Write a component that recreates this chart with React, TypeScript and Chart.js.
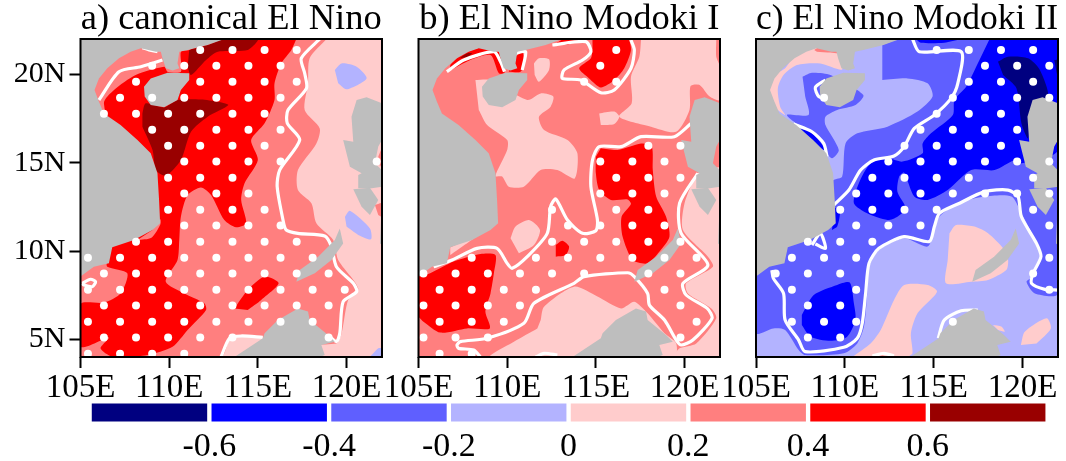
import React, { useEffect, useRef } from "react";
import { Chart, registerables } from "chart.js";
Chart.register(...registerables);

type Pt = [number, number];
const FONT = "'Liberation Serif'";
const C_NAVY = "#000080", C_BLUE = "#0000FF", C_MBLUE = "#5F5FFF", C_LBLUE = "#B3B3FF";
const C_PINK = "#FFCCCC", C_SALMON = "#FF7F7F", C_RED = "#FF0000", C_DARK = "#990000", C_LAND = "#BEBEBE";
const FULL: Pt[] = [[105, 4], [122, 4], [122, 22], [105, 22]];

const landMainland: Pt[] = [[105,22],[113.11,22],[112.17,21.66],[111.04,21.38],[110.57,21.28],[110.47,20.62],[110.57,20.34],[110.19,20.21],[109.81,20.34],[109.62,20.91],[109.53,21.28],[109.25,21.28],[108.4,21.47],[107.83,21.28],[107.17,20.91],[106.51,20.34],[106.04,19.77],[105.79,19.11],[106.04,18.45],[106.32,17.79],[107.26,17.13],[108.21,16.28],[108.96,15.53],[109.34,14.4],[109.43,12.89],[109.49,11.57],[109.06,11.19],[108.02,10.62],[106.79,10.21],[106.6,9.3],[105.75,9.11],[105,8.55]];
const landHainan: Pt[] = [[108.58,19.3],[108.96,19.77],[109.91,20.09],[111.13,20.06],[111.13,19.68],[110.66,19.11],[110.47,18.55],[109.72,18.13],[108.96,18.26],[108.62,18.74]];
const landLuzon: Pt[] = [[120.57,18.55],[121.13,18.7],[122,18.36],[122,16.28],[121.79,15.91],[121.6,14.96],[121.98,14.58],[122,13.64],[121.42,13.55],[120.66,13.55],[120.66,14.3],[120.85,14.4],[120.19,14.77],[119.81,16.28],[120.38,16.19],[120.28,17.6]];
const landMindoro: Pt[] = [[120.38,13.5],[121.32,13.58],[121.79,12.89],[121.32,12.04],[120.85,12.51]];
const landEdge: Pt[] = [[121.94,11.75],[122,11.94],[122,10.34],[121.89,10.43]];
const landPalawan: Pt[] = [[117.17,8.26],[117.36,8.92],[118.4,9.68],[119.34,10.62],[119.62,11.28],[119.81,10.43],[119.15,9.49],[118.21,8.74]];
const landBorneo: Pt[] = [[113.68,4],[114.43,4.49],[115.28,5.06],[115.38,5.34],[116.13,6.09],[117.26,6.75],[117.83,6.57],[117.92,6.09],[118.96,5.25],[119.34,4.87],[118.58,4.68],[118.77,4.11],[118.49,4]];
const lands = [landMainland, landHainan, landLuzon, landMindoro, landEdge, landPalawan, landBorneo];

// panel a
const aSalmon: Pt[] = [[118.87,22],[117.92,20.91],[117.83,19.49],[117.64,17.98],[118.49,16.94],[118.3,16.09],[117.26,14.58],[117.26,13.45],[118.02,12.7],[118.3,11.57],[119.25,10.62],[119.53,9.49],[120.66,7.89],[120.09,7.23],[119.72,5.34],[119.43,4.77],[115.94,4.77],[115.19,5.06],[113.49,5.06],[112.92,4],[105,4],[105,22]];
const aRedMain: Pt[] = [[117.17,22],[116.89,21.38],[116.32,20.62],[115.94,19.49],[115.94,18.55],[115.38,17.23],[114.62,16.28],[115,15.15],[114.25,13.83],[114.06,12.89],[114.34,11.57],[113.77,11.34],[113.11,11.75],[112.36,13.17],[111.79,13.6],[111.04,13.17],[110.66,11.94],[110.57,10.62],[110.47,9.49],[109.81,8.26],[110.85,7.6],[111.98,7.04],[112.08,6.66],[111.04,5.53],[110.19,4.58],[108.77,4.11],[107.64,4],[106.79,4],[106.13,4.49],[106.6,5.11],[105,4.58],[105,7],[106.32,7.08],[107.26,7.6],[107.64,8.74],[106.51,9.11],[106.51,9.49],[107.45,12.89],[106.32,18.36],[106.89,19.11],[108.11,19.96],[109.72,20.43],[109.91,20.15],[110.66,20.15],[110.66,21.28],[111.13,21.38],[112.17,22]];
const aRedSmall: Pt[] = [[113.68,6.75],[114.43,7.79],[115.38,8.55],[116.17,8.17],[115.19,7.23],[114.43,6.66]];
const aDark1: Pt[] = [[108.49,17.79],[108.68,18.36],[109.72,18.13],[110.47,18.55],[111.79,18.58],[112.74,18.45],[113.34,18.26],[112.17,17.6],[111.23,16.75],[110.66,15.15],[109.81,14.26],[109.25,14.58],[109.06,15.72],[108.49,17.04]];
const aDark2: Pt[] = [[111.13,21.38],[112.17,21.66],[113.11,22],[115,22],[114.43,21.38],[112.74,21.28],[112.08,20.81],[111.23,19.96],[111.04,20.43]];
const aBlue1: Pt[] = [[119.34,20.25],[119.72,20.62],[120.57,20.43],[121.13,19.77],[120,19.15],[119.53,19.49]];
const aBlue2: Pt[] = [[119.91,11.94],[120.19,12.28],[121.32,11.28],[121.38,10.66],[120.66,10.91],[120,11.38]];
const aBlue3: Pt[] = [[121.32,4],[121.79,4.49],[122,4.49],[122,4]];
const aSalR1: Pt[] = [[121.6,12.6],[122,12.7],[122,11.94],[121.79,12.04]];
const aSalR2: Pt[] = [[121.79,15.34],[122,15.8],[122,14.96],[121.89,14.77]];
const aSalCoast: Pt[] = [[108.21,10.62],[109,10.75],[109.5,11.5],[109.5,11.8],[109.06,11.19]];
const aW1: Pt[] = [[118.49,22],[117.45,20.91],[117.64,20.06],[117.74,19.21],[116.7,17.98],[116.66,17.23],[117.36,16.28],[116.23,14.58],[116.09,13.64],[116.42,11.75],[116.6,11.19],[117.26,11],[118.77,10.85],[119.15,10.25],[119.43,9.11],[120.38,8.17],[120.57,7.7],[119.81,7.13],[119.62,5.34],[119.43,4.87],[118.96,5.25]];
const aW2: Pt[] = [[106.04,18.55],[107.17,20.15],[108.4,20.43],[109.62,20.81]];
const aW3: Pt[] = [[108.49,21.51],[108.87,21.38],[109.34,21.28]];
const aW4: Pt[] = [[105.09,8.17],[105.57,8.4],[105.85,8.26],[105.66,7.98],[105.19,8.08],[105.09,8.17]];
const aW5: Pt[] = [[112.92,4],[113.4,5.06],[114.06,5.19],[115.28,5.11]];

// panel b
const bP1: Pt[] = [[117.55,22],[117.45,21],[116.98,19.87],[117.02,18.36],[116.32,17.6],[118.11,17.04],[119.53,16.75],[120.28,17.98],[120.34,19.34],[120.85,19.4],[121.42,18.74],[122,18.55],[122,20.43],[121.79,21],[121.79,22]];
const bP2: Pt[] = [[120.66,14.4],[120,12.7],[119.91,11.19],[121.32,9.68],[121.6,9.11],[120.09,8.17],[120.19,7.6],[121.51,6.75],[121.79,6.19],[120.66,4.77],[119.72,4.49],[119.43,4],[122,4],[122,14.77]];
const bP3: Pt[] = [[111.89,6.09],[112.08,6.85],[113.77,7.98],[115.09,7.42],[116.42,6.75],[117.17,7.13],[117.92,6.47],[118.87,5.34],[119.53,4.77],[119.43,4],[109.06,4],[110.38,4.87],[111.7,5.62]];
const bP4: Pt[] = [[108.21,19.68],[109.06,19.68],[111.13,18.55],[111.89,18.92],[112.6,18.74],[112.45,18.17],[111.79,17.6],[112.08,16.85],[113.4,16.28],[113.96,15.53],[113.81,14.11],[112.83,14.58],[111.89,14.58],[110.94,13.64],[110.09,13.64],[109.72,14.21],[109.34,14.25],[110,15.72],[110,16.28],[108.87,17.13],[108.4,17.98]];
const bP5: Pt[] = [[115.19,17.79],[116.04,17.89],[116.32,17.6],[116.04,17.19],[115.28,17.13]];
const bP6: Pt[] = [[111.51,20.62],[111.79,20.91],[112.36,20.85],[112.36,20.25],[111.79,19.58],[111.55,19.96]];
const bP7: Pt[] = [[110.19,10.72],[110.47,11.38],[111.23,11.75],[111.85,11.19],[111.51,10.34],[110.66,9.87]];
const bP8: Pt[] = [[106.79,10.21],[108.21,10.81],[106.79,9.77]];
const bR1: Pt[] = [[114.81,22],[116.79,22],[116.98,21.38],[116.6,20.34],[116.04,19.68],[115.28,19.26],[114.62,19.77],[114.06,20.34],[114.72,20.91],[114.81,21.38]];
const bR1b: Pt[] = [[112.74,21.75],[113.21,22],[114.25,22],[113.4,21.66]];
const bR2: Pt[] = [[106.79,20.53],[107.36,21.09],[108.49,21.51],[109.53,21.28],[109.85,20.09],[109.53,20.06],[109.06,21.09],[107.92,20.81],[106.79,20.21]];
const bR3: Pt[] = [[110.47,21],[110.85,21.28],[110.94,20.62],[110.75,20.15],[110.09,20.15]];
const bR4: Pt[] = [[115.28,15.81],[116.23,15.72],[117.55,16.09],[118.15,15.91],[118.21,14.58],[118.4,13.08],[118.96,11.94],[119.15,10.81],[118.58,9.96],[117.92,9.3],[117.08,9.49],[116.51,10.81],[116.45,11.94],[116.98,12.66],[116.79,12.92],[115.85,12.89],[115.19,13.45],[115,14.4],[115,15.34]];
const bR5: Pt[] = [[112.74,10.34],[113.11,10.58],[113.49,10.25],[113.3,9.77],[112.74,9.68]];
const bR6: Pt[] = [[105,8.55],[105.66,8.74],[106.98,9.4],[108.49,9.83],[109.34,9.77],[109.25,8.74],[109.06,7.6],[108.77,6.57],[109.02,5.62],[107.74,5.62],[106.23,5.38],[105.28,6],[105,6.28]];
const bDark: Pt[] = [[107.32,20.91],[107.74,21.19],[108.02,21.19],[107.83,21]];
const bW1: Pt[] = [[105.85,9.11],[106.89,9.49],[108.3,10.15],[109.43,10.15],[110,9.3],[110.28,9.02],[111.13,9.68],[112.26,11],[112.45,12.51],[112.74,12.94],[113.4,11.75],[114.25,11],[115,11.15],[115.09,11.75],[114.72,13.64],[114.81,15.15],[115.19,15.91],[116.42,15.91],[117.55,16.47],[119.43,16.47],[120.38,17.23]];
const bW2: Pt[] = [[108.49,4],[108.11,4.4],[107.26,4.49],[107.17,4.68],[107.36,4.87],[108.87,5.06],[110.94,5.91],[111.51,7.04],[113.77,8.17],[114.34,8.55],[116.79,8.77],[117.17,8.55],[117.92,7.6],[118.02,6.94],[118.87,6.09],[119.53,4.96],[119.81,4.68],[120.47,4.96],[121.55,6.19],[121.28,6.75],[120.09,7.51],[119.91,8.17],[121.32,9.21],[119.81,11],[119.72,12.7],[120.75,14.4]];
const bW3: Pt[] = [[106.6,20.15],[107.55,20.81],[109.25,21.28],[109.62,20.72],[109.85,20.15]];
const bW4: Pt[] = [[110.47,21.19],[111.04,21.28],[110.85,20.25]];
const bW5: Pt[] = [[112.55,21.66],[114.43,21.85],[114.72,21.28],[114.25,20.81],[113.21,20.25],[113.11,19.77],[114.15,19.68],[115.28,18.96],[116.04,19.11],[116.98,20.34],[117.17,21.38],[116.98,21.94]];
const bW6: Pt[] = [[111.6,4],[112.08,4.21],[112.83,4.11]];

// panel c
const cM: Pt[] = [[112.11,21.66],[113.15,22],[122,22],[122,7.6],[120.7,7.6],[120.23,8.26],[120.6,8.55],[120.98,9.68],[120.7,10.62],[119.94,12.13],[119.38,13.08],[117.87,13.08],[116.36,12.7],[115.32,11.94],[115.04,11.19],[114.66,10.25],[113.34,10.72],[111.92,10.06],[111.36,9.11],[111.26,7.6],[111.08,5.72],[110.7,4.77],[109.94,4.21],[107.77,4.11],[107.4,4.4],[106.64,5.53],[105.98,5.62],[105,5.34],[105,8.55],[107.3,12.89],[109.38,14.02],[109.85,14.21],[110.04,16.09],[110.7,16.66],[112.4,17.04],[114.09,17.89],[114.94,18.74],[114.66,19.49],[113.53,19.77],[112.11,19.68]];
const cM2: Pt[] = [[107.62,19.87],[108.15,20.09],[109.19,19.96],[111.04,18.83],[110.6,18.26],[109.57,17.98],[108.91,17.6],[108.91,17.13],[109.66,15.72],[109.28,15.25],[108.91,15.62],[107.87,16.75],[106.74,17.7],[107.96,17.7],[107.77,18.74]];
const cPU: Pt[] = [[105.75,19.08],[106.08,19.96],[106.64,20.34],[107.21,21.09],[108.25,21.47],[109.57,21.38],[109.85,20.28],[108.62,20.62],[107.3,20.53],[106.55,19.96],[106.23,19.21],[106.36,18.17],[106.64,17.7],[105.98,18.17]];
const cSal: Pt[] = [[108.28,21.38],[108.62,21.57],[109.19,21.53],[109.66,21.19],[109.19,21.23],[108.43,21.28]];
const cBCoast1: Pt[] = [[107.49,16.94],[108.06,16.75],[108.81,15.91],[108.81,15.72],[108.25,16.09]];
const cB: Pt[] = [[118.15,22],[122,22],[122,15.72],[119.94,14.96],[119.57,15.15],[118.43,14.58],[117.11,14.58],[115.79,13.45],[114.66,12.89],[113.91,13.08],[113.34,14.43],[113.06,14.21],[112.96,13.36],[113.43,12.42],[112.96,11.94],[112.4,11.75],[111.26,12.13],[110.51,12.7],[110.79,13.83],[111.45,14.96],[112.4,15.25],[113.25,15.06],[114.38,15.53],[114.38,16.09],[114.85,16.66],[116.08,17.7],[116.17,18.55],[116.83,19.3],[117.58,20.81]];
const cBTop: Pt[] = [[114,22],[114.28,21.79],[115.6,21.79],[116.55,22]];
const cBCoast2: Pt[] = [[109.38,12.51],[109.72,12.23],[109.57,11.38],[109.28,11.19]];
const cBLow: Pt[] = [[107.58,6.38],[108.25,7.51],[109.57,8.08],[110.28,8.21],[110.51,7.04],[110.6,6.11],[110.13,5.15],[109.19,4.92],[108.06,5.15],[107.58,5.81]];
const cNavy: Pt[] = [[118.62,20.72],[119.19,21],[120.32,20.91],[120.98,20.25],[121.45,18.74],[120.6,18.36],[120.32,16.38],[119.94,17.23],[119.66,19.21],[118.91,19.96]];
const cNavy2: Pt[] = [[121.79,20.81],[122,20.81],[122,19.7]];
const cP1: Pt[] = [[115.89,11],[116.26,11.47],[117.3,11.38],[118.06,11],[118.91,10.15],[119.19,9.49],[119.09,8.92],[118.06,8.36],[117.11,8.26],[115.7,8.17],[115.79,9.49]];
const cP2: Pt[] = [[110.42,4],[111.45,4.77],[112.02,5.53],[112.77,7.23],[113.34,8.08],[114.66,8.08],[115.19,7.7],[114.09,6.47],[113.72,5.34],[113.81,4.21],[113.53,4]];
const cP3: Pt[] = [[119.91,4.68],[120.13,5.43],[121.36,6.19],[121.6,5.62],[120.79,4.77]];
const cP4: Pt[] = [[118.34,5.81],[118.81,5.72],[119,5.43],[118.62,5.53]];
const cSal2: Pt[] = [[111.64,4],[111.92,4.21],[112.3,4]];
const cW1: Pt[] = [[113.81,22],[114.19,21.28],[116.55,21.28],[116.36,19.49],[115.98,18.64],[115.04,17.7],[113.91,16.94],[113.34,15.91],[112.77,15.38],[111.64,15.15],[110.89,14.58],[110.23,13.45],[109.38,12.6]];
const cW2: Pt[] = [[105.89,8.92],[105.98,8.45],[106.55,7.6],[106.64,6.09],[107.4,4.96],[107.77,4.3],[109.94,4.55],[110.7,5.06],[110.98,5.91],[111.17,7.6],[111.36,9.3],[111.92,10.15],[113.34,10.81],[114.75,10.53],[115.04,11.38],[115.32,12.13],[116.36,12.66],[117.87,13.36],[119.19,13.45],[119.75,13.08],[119.94,11.94],[120.79,10.43],[121.04,9.68],[120.6,8.74],[120.51,8.17],[121.26,7.83],[122,7.79]];
const cW3: Pt[] = [[107.11,17.19],[108.15,16.75],[108.81,16.09],[109,15.34]];
const cW4: Pt[] = [[108.91,19.68],[108.34,19.26],[108.53,18.74],[108.81,18.64]];
const cW5: Pt[] = [[115.26,5.06],[115.6,6.09],[116.55,6.62],[117.49,6.66]];
const cW6: Pt[] = [[108.15,10.34],[108.62,11],[108.91,10.15],[108.34,10.4]];
const cW7: Pt[] = [[111.55,4.06],[112.21,4.21],[112.77,4.06]];

// stippling: latitudes of rows, longitudes of columns and, per row, which columns are marked
const stipLat = [21.38,20.49,19.58,18.68,17.77,16.87,15.96,15.06,14.15,13.25,12.34,11.44,10.53,9.62,8.72,7.81,6.91,6,5.1,4.19];
const stipLonA = [105.42,106.32,107.23,108.13,109.04,109.94,110.85,111.75,112.66,113.57,114.47,115.38,116.28,117.19,118.09,118.99,119.9,120.8,121.7];
const stipLonB = [105.28,106.19,107.09,108,108.91,109.81,110.72,111.62,112.53,113.43,114.34,115.25,116.15,117.06,117.96,118.87,119.77,120.68];
const stipLonC = [106.11,107.02,107.92,108.83,109.74,110.64,111.55,112.45,113.36,114.26,115.17,116.08,116.98,117.89,118.79,119.7,120.6,121.51];
const stipA: number[][] = [[7,9,11,13],[4,6,8,10,12],[3,7,9,11,13],[2,4,6,8,10,12],[1,3,5,7,9,11],[4,6,8,10,12],[5,7,9,11],[6,8,10,12,18],[5,7,9],[6,8,10],[5,7,9,11],[6,8,10,12],[3,5,7,9,11,13],[0,2,4,6,8,10,12,14],[1,3,5,7,9,11,13,15],[0,2,4,6,8,10,12,14,16],[1,3,5,7,9,11,13,15],[0,2,4,6,8,10,12,14],[1,3,5,7,9,15],[0,2,4,6]];
const stipB: number[][] = [[12],[11],[10,12],[],[],[],[14,16],[11,13,15],[12,14,16],[11,13,15],[8,12,14],[9,11,13,15],[8,10,12,14,16],[3,7,9,11,13,15,17],[0,2,4,6,8,10,14,16],[1,3,5,7,15],[0,2,4,6,16],[1,3,5,17],[0,2,4,16],[1,3]];
const stipC: number[][] = [[10,12,14,16],[13,15,17],[12,14,16],[3,11,13,15,17],[10,12,14],[9,11,13,15],[8,10,12,14],[7,9,11,13,15,17],[6,8,10,12,16],[5,7,9,11,13,15,17],[4,6,8,10,16],[5,7,9,17],[2,4,6],[1,3,5,17],[0,2,4,16],[1,5,17],[2,4],[1,3,5,11],[2,4],[]];

const xTicks = [105, 110, 115, 120];
const xLabels = ["105E", "110E", "115E", "120E"];
const yTicks = [5, 10, 15, 20];
const yLabels = ["5N", "10N", "15N", "20N"];
const cbEdges = [-0.8, -0.6, -0.4, -0.2, 0, 0.2, 0.4, 0.6, 0.8];
const cbColors = [C_NAVY, C_BLUE, C_MBLUE, C_LBLUE, C_PINK, C_SALMON, C_RED, C_DARK];
const cbTicks = [-0.6, -0.4, -0.2, 0, 0.2, 0.4, 0.6];

type Layer = [Pt[], string];
const panels = [
  {
    title: "a) canonical El Nino", left: 0, width: 400, padL: 0, padR: 18, showY: true,
    fills: [[FULL, C_PINK], [aSalmon, C_SALMON], [aRedMain, C_RED], [aRedSmall, C_RED], [aDark1, C_DARK], [aDark2, C_DARK], [aBlue1, C_LBLUE], [aBlue2, C_LBLUE], [aBlue3, C_LBLUE], [aSalR1, C_SALMON], [aSalR2, C_SALMON], [aSalCoast, C_SALMON]] as Layer[],
    lines: [aW1, aW2, aW3, aW4, aW5], lon: stipLonA, rows: stipA,
  },
  {
    title: "b) El Nino Modoki I", left: 380, width: 350, padL: 38.5, padR: 10, showY: false,
    fills: [[FULL, C_SALMON], [bP1, C_PINK], [bP2, C_PINK], [bP3, C_PINK], [bP4, C_PINK], [bP5, C_PINK], [bP6, C_PINK], [bP7, C_PINK], [bP8, C_PINK], [bR1, C_RED], [bR1b, C_RED], [bR2, C_RED], [bR3, C_RED], [bR4, C_RED], [bR5, C_RED], [bR6, C_RED], [bDark, C_DARK]] as Layer[],
    lines: [bW1, bW2, bW3, bW4, bW5, bW6], lon: stipLonB, rows: stipB,
  },
  {
    title: "c) El Nino Modoki II", left: 718, width: 348, padL: 38, padR: 8, showY: false,
    fills: [[FULL, C_LBLUE], [cM, C_MBLUE], [cM2, C_MBLUE], [cPU, C_PINK], [cSal, C_SALMON], [cBCoast1, C_BLUE], [cB, C_BLUE], [cBTop, C_BLUE], [cBCoast2, C_BLUE], [cBLow, C_BLUE], [cNavy, C_NAVY], [cNavy2, C_NAVY], [cP1, C_PINK], [cP2, C_PINK], [cP3, C_PINK], [cP4, C_PINK], [cSal2, C_SALMON]] as Layer[],
    lines: [cW1, cW2, cW3, cW4, cW5, cW6, cW7], lon: stipLonC, rows: stipC,
  },
];

const toXY = (pts: Pt[]) => pts.map(([x, y]) => ({ x, y }));

const frame = {
  id: "frame",
  afterDatasetsDraw(chart: any) {
    const { ctx, chartArea: a } = chart;
    ctx.save();
    ctx.strokeStyle = "#000";
    ctx.lineWidth = 2;
    ctx.strokeRect(a.left, a.top, a.right - a.left, a.bottom - a.top);
    ctx.restore();
  },
};

function buildMap(canvas: HTMLCanvasElement, p: (typeof panels)[number]) {
  const shape = (pts: Pt[], color: string, tension: number) => ({
    data: toXY(pts), showLine: true, fill: "shape", backgroundColor: color, borderColor: "transparent",
    borderWidth: 0, pointRadius: 0, tension,
  });
  const layers: any[] = [];
  for (const [pts, color] of p.fills) layers.push(shape(pts, color, pts === FULL ? 0 : 0.25));
  for (const pts of p.lines)
    layers.push({ data: toXY(pts), showLine: true, fill: false, borderColor: "#fff", borderWidth: 3.2, pointRadius: 0, tension: 0.25 });
  for (const pts of lands) layers.push(shape(pts, C_LAND, 0));
  const dots: { x: number; y: number }[] = [];
  p.rows.forEach((cols, r) => cols.forEach((c) => dots.push({ x: p.lon[c], y: stipLat[r] })));
  layers.push({ data: dots, showLine: false, pointRadius: 4, pointBackgroundColor: "#fff", pointBorderColor: "#fff", pointBorderWidth: 0 });
  const n = layers.length;
  layers.forEach((l, i) => (l.order = n - i));
  return new Chart(canvas, {
    type: "scatter",
    data: { datasets: layers },
    plugins: [frame],
    options: {
      responsive: false, animation: false, events: [],
      layout: { padding: { left: p.padL, right: p.padR, top: 0, bottom: 5 } },
      plugins: {
        legend: { display: false }, tooltip: { enabled: false },
        filler: { propagate: false, drawTime: "beforeDatasetDraw" },
        title: { display: true, text: p.title, fullSize: false, color: "#000", font: { family: FONT, size: 36.5, lineHeight: 1.0685, weight: "normal" }, padding: { top: 0, bottom: 0 } },
      },
      scales: {
        x: {
          type: "linear", min: 105, max: 122,
          afterBuildTicks: (s: any) => { s.ticks = xTicks.map((value) => ({ value })); },
          afterFit: (s: any) => { s.height = 43; },
          grid: { drawOnChartArea: false, tickLength: 11, tickWidth: 2, tickColor: "#000" },
          border: { display: false },
          ticks: { autoSkip: false, maxRotation: 0, padding: 1, color: "#000", font: { family: FONT, size: 33 }, callback: (v: any) => xLabels[xTicks.indexOf(v)] },
        },
        y: {
          type: "linear", min: 4, max: 22, display: p.showY,
          afterBuildTicks: (s: any) => { s.ticks = yTicks.map((value) => ({ value })); },
          afterFit: (s: any) => { if (p.showY) s.width = 80.5; },
          grid: { drawOnChartArea: false, tickLength: 11, tickWidth: 2, tickColor: "#000" },
          border: { display: false },
          ticks: { autoSkip: false, padding: 4, color: "#000", font: { family: FONT, size: 30 }, callback: (v: any) => yLabels[yTicks.indexOf(v)] },
        },
      },
    } as any,
  });
}

function buildBar(canvas: HTMLCanvasElement) {
  const datasets = cbColors.map((color, i) => ({
    data: [[cbEdges[i], cbEdges[i + 1]]], backgroundColor: color, borderColor: "#fff", borderWidth: 2.5, borderSkipped: false, barThickness: 22.5, grouped: false,
  }));
  return new Chart(canvas, {
    type: "bar",
    data: { labels: ["scale"], datasets },
    options: {
      indexAxis: "y", responsive: false, animation: false, events: [],
      layout: { padding: { left: 89.6, right: 18.4, top: 7, bottom: 0 } },
      plugins: { legend: { display: false }, tooltip: { enabled: false } },
      scales: {
        x: {
          type: "linear", min: -0.8, max: 0.8,
          afterBuildTicks: (s: any) => { s.ticks = cbTicks.map((value) => ({ value })); },
          afterFit: (s: any) => { s.height = 38; },
          grid: { display: false }, border: { display: false },
          ticks: { autoSkip: false, maxRotation: 0, padding: -4, color: "#000", font: { family: FONT, size: 34 }, callback: (v: any) => String(v) },
        },
        y: { display: false, stacked: false },
      },
    } as any,
  });
}

const abs = (left: number, top: number): React.CSSProperties => ({ position: "absolute", left, top, display: "block" });

export default function App() {
  const mapRefs = useRef<(HTMLCanvasElement | null)[]>([]);
  const barRef = useRef<HTMLCanvasElement | null>(null);
  useEffect(() => {
    document.body.style.margin = "0";
    const charts = panels.map((p, i) => buildMap(mapRefs.current[i]!, p));
    charts.push(buildBar(barRef.current!));
    return () => charts.forEach((c) => c.destroy());
  }, []);
  return (
    <div style={{ position: "fixed", left: 0, top: 0, width: 1066, height: 461, background: "#fff", overflow: "hidden" }}>
      {panels.map((p, i) => (
        <canvas key={p.title} ref={(el) => { mapRefs.current[i] = el; }} width={p.width} height={405} style={abs(p.left, 0)} />
      ))}
      <canvas ref={barRef} width={1066} height={66} style={abs(0, 395)} />
    </div>
  );
}
